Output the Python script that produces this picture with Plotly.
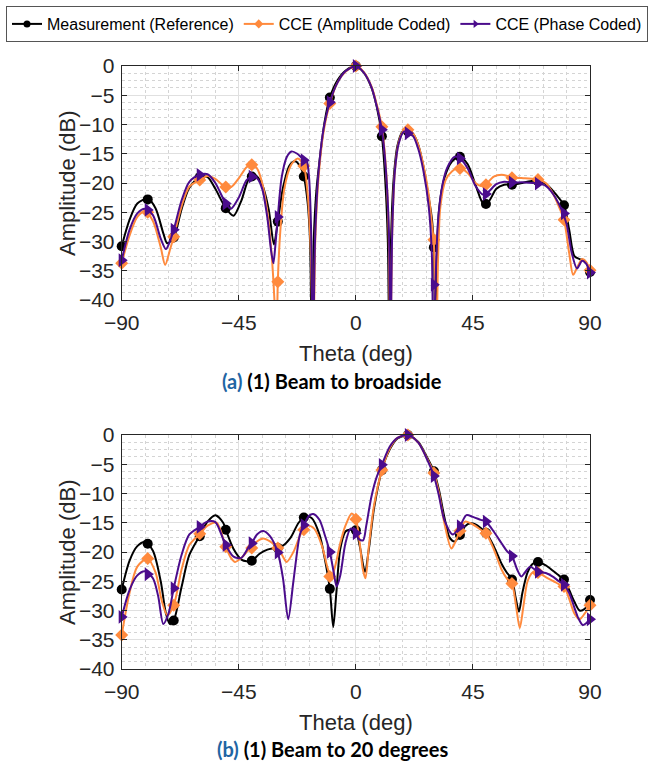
import plotly.graph_objects as go

# ---------------- data ----------------
theta_mk = [-90, -80, -70, -60, -50, -40, -30, -20, -10, 0, 10, 20, 30, 40, 50, 60, 70, 80, 90]

# (a) beam to broadside - sample points (markers)
a_meas_mk = [-30.8, -22.8, -29.3, -19.0, -24.3, -18.9, -26.6, -18.9, -5.4, 0.0, -12.0, -11.2, -31.0, -15.5, -23.6, -20.3, -19.7, -23.8, -35.2]
a_amp_mk = [-33.7, -25.0, -29.2, -19.5, -20.7, -16.9, -36.9, -17.1, -6.4, 0.0, -10.4, -10.9, -29.7, -17.5, -20.3, -19.1, -19.4, -26.3, -34.9]
a_ph_mk = [-33.2, -24.6, -28.0, -18.6, -23.5, -18.9, -25.8, -16.1, -6.2, 0.0, -10.9, -11.5, -37.4, -15.8, -21.9, -19.9, -20.1, -25.2, -35.3]

# (a) fine traces
a_meas_th = [-90, -87, -84, -80, -77, -74, -72.5, -70, -67, -64, -60, -57, -54, -50, -47, -44, -41, -38.5, -36, -33.5,
             -31.5, -30, -28, -25.5, -23.4, -21.5, -20, -18.5, -17.6, -16.9, -16.2, -15.2, -13.5, -12, -10, -7, -4, 0, 3, 6,
             8, 10, 11.3, 12.3, 12.9, 13.5, 14.5, 16, 18, 20, 22, 24, 26, 28, 29.2, 30, 30.5, 31.2, 32, 34,
             37, 40, 43, 46, 49, 51, 54, 57, 60, 64, 68, 71, 74, 77, 80, 82, 84, 86, 88, 90]
a_meas_db = [-30.8, -26.3, -23.5, -22.7, -24.3, -28.6, -30.3, -29.3, -24.5, -20.8, -19.0, -19.0, -21.0, -24.3, -25.6, -23.0, -19.2, -18.7, -20.3, -24.5,
             -30.5, -26.6, -20.8, -17.0, -16.3, -17.1, -18.9, -23.5, -30.0, -50.0, -30.0, -21.5, -14.5, -9.5, -5.4, -2.4, -0.8, 0.0, -1.1, -3.7,
             -6.9, -12.0, -19.5, -30.0, -50.0, -30.0, -19.5, -13.6, -11.2, -10.9, -11.6, -13.5, -17.2, -22.5, -26.0, -31.0, -50.0, -32.0, -24.5, -19.2,
             -16.3, -15.5, -16.8, -20.3, -23.5, -23.2, -21.0, -20.3, -20.3, -20.0, -19.6, -19.7, -20.5, -22.0, -23.8, -28.0, -32.5, -33.0, -33.3, -35.2]

a_amp_th = [-90, -87, -84, -81, -78, -75, -73.3, -71.5, -70, -67, -64, -60, -57, -54, -51, -48, -45, -42, -40, -38,
            -36, -34, -32.5, -31.3, -30.5, -30, -29, -27.5, -25, -22.3, -20, -18.5, -17.3, -16.4, -15.6, -14.5, -12.5, -10, -7, -4,
            0, 3, 6, 8, 10, 11.5, 12.6, 13.2, 14, 15, 16.5, 18.5, 20, 22, 24, 26, 28, 29, 30, 30.9,
            31.6, 32.5, 34.5, 37, 40, 43, 46, 48, 50, 53, 56, 60, 65, 70, 73, 76, 78, 80, 82, 83.5,
            85, 87, 88.5, 90]
a_amp_db = [-33.7, -29.0, -25.8, -24.8, -26.5, -31.0, -34.0, -31.5, -29.2, -24.0, -20.6, -19.5, -18.8, -19.3, -20.4, -20.7, -19.2, -17.3, -16.9, -17.5,
            -20.0, -25.0, -31.5, -40.0, -50.0, -36.9, -28.0, -21.0, -17.0, -15.8, -17.1, -22.0, -32.0, -50.0, -30.0, -20.0, -11.5, -6.4, -2.8, -1.0,
            0.0, -1.0, -3.5, -6.5, -10.4, -17.0, -28.0, -50.0, -28.0, -18.0, -13.0, -11.0, -10.9, -11.5, -13.5, -17.0, -22.0, -26.0, -30.5, -50.0,
            -33.0, -24.0, -19.5, -18.0, -17.4, -18.3, -20.0, -20.5, -20.2, -18.9, -18.6, -19.0, -19.2, -19.4, -20.0, -22.0, -24.0, -26.3, -32.0, -35.7,
            -34.5, -33.0, -33.5, -34.9]

a_ph_th = [-90, -87, -84, -81, -78, -75, -73, -71.5, -70, -67, -64, -60, -57, -54, -50, -48, -45, -42, -40, -38,
           -36, -34, -32.6, -31.7, -31, -30, -28.5, -26.5, -24.7, -22.5, -20.5, -19, -18, -17.2, -16.5, -15.7, -14.5, -12.5, -10, -7,
           -4, 0, 3, 6, 8, 10, 11.5, 12.7, 13.3, 14, 15, 16.5, 18.5, 20, 22, 24, 26, 28, 29.2, 29.8,
           30.6, 31.5, 33, 35, 38, 40, 43, 46, 49, 51, 54, 57, 60, 65, 70, 73, 76, 79, 81, 83,
           85, 87, 88.5, 90]
a_ph_db = [-33.2, -28.0, -25.2, -24.4, -25.5, -29.5, -31.3, -30.0, -28.0, -23.0, -19.8, -18.6, -18.5, -20.0, -23.5, -24.4, -22.5, -19.5, -18.9, -19.2,
           -21.0, -26.0, -31.5, -33.7, -31.0, -25.8, -19.0, -15.5, -14.6, -15.0, -15.8, -16.1, -19.0, -28.0, -50.0, -30.0, -19.0, -11.0, -6.2, -2.8,
           -0.9, 0.0, -1.1, -3.6, -6.8, -10.9, -17.5, -28.0, -50.0, -28.0, -18.0, -13.2, -11.2, -11.5, -12.0, -14.2, -18.0, -24.0, -32.0, -50.0,
           -37.4, -27.0, -21.0, -17.5, -15.5, -15.8, -17.5, -20.5, -22.0, -21.5, -20.2, -19.8, -19.9, -19.9, -20.1, -20.5, -22.0, -24.5, -27.0, -32.0,
           -34.6, -33.3, -33.8, -35.3]

# (b) beam to 20 degrees - sample points (markers)
b_meas_mk = [-26.4, -18.6, -31.7, -17.3, -16.2, -21.5, -19.3, -14.1, -26.3, -16.3, -6.0, 0.0, -6.2, -17.1, -16.7, -24.7, -21.7, -24.7, -28.2]
b_amp_mk = [-34.2, -21.1, -29.1, -16.9, -19.1, -19.3, -19.3, -16.2, -24.2, -14.4, -6.0, 0.0, -6.5, -16.4, -16.8, -25.4, -23.5, -25.9, -29.1]
b_ph_mk = [-31.1, -23.8, -26.2, -15.7, -18.8, -18.5, -20.1, -15.4, -20.0, -16.8, -5.1, 0.0, -7.0, -15.6, -14.8, -20.7, -23.4, -25.6, -31.5]

# (b) fine traces
b_meas_th = [-90, -87, -84, -81, -78, -75, -73, -71.5, -70, -67, -64, -60, -57, -54, -51, -50, -47, -44, -42, -40,
             -37, -34, -31, -28, -25, -22, -19.5, -17, -14, -12, -10, -8.7, -7.5, -6, -4, -2.5, -1, 0, 1.5, 3.5,
             5, 7, 10, 13, 16, 20, 24, 27, 30, 32, 34, 36, 38, 40, 42, 44, 46, 48, 50, 53,
             56, 58, 60, 61.5, 62.7, 64, 66, 68, 70, 73, 76, 78, 80, 82, 84, 86, 88, 90]
b_meas_db = [-26.4, -21.5, -19.0, -18.3, -19.8, -25.0, -30.5, -32.3, -31.7, -26.0, -20.5, -17.2, -14.8, -13.7, -15.0, -16.2, -19.5, -21.3, -21.6, -21.5,
             -20.3, -19.6, -19.3, -18.9, -17.5, -15.0, -14.0, -14.2, -17.0, -21.0, -26.3, -32.8, -27.0, -19.5, -16.5, -16.2, -16.2, -16.3, -19.0, -23.4,
             -19.5, -12.5, -6.0, -2.5, -0.6, 0.0, -1.2, -3.5, -6.2, -9.5, -14.0, -17.5, -18.2, -17.1, -15.6, -15.1, -15.3, -15.9, -16.7, -19.0,
             -22.0, -23.5, -24.7, -28.0, -30.2, -27.0, -23.5, -22.0, -21.7, -22.3, -23.3, -24.0, -24.7, -26.5, -28.5, -30.0, -29.7, -28.2]

b_amp_th = [-90, -87, -84, -80, -77, -74.5, -72.5, -70, -67, -64, -60, -57, -53.5, -50, -48, -46.4, -44, -41, -38, -35.6,
            -33, -30, -28, -26.6, -24, -21, -18.5, -16, -13, -11, -9.5, -8, -6, -4, -1.6, 0, 1.5, 2.7, 3.7, 5,
            7, 10, 13, 16, 20, 24, 27, 30, 32, 34, 36.7, 38, 40, 42, 45, 48, 50, 53, 56, 58,
            60, 61.5, 63, 64.5, 66, 68, 70, 73, 76, 78, 80, 82, 84, 86, 88, 90]
b_amp_db = [-34.2, -27.0, -22.5, -21.1, -23.5, -28.5, -30.8, -29.1, -23.0, -18.8, -16.9, -15.5, -15.0, -19.1, -21.0, -21.7, -21.0, -19.5, -18.2, -17.7,
            -18.2, -19.3, -20.8, -21.7, -20.0, -16.8, -15.5, -16.0, -19.0, -22.5, -24.5, -22.5, -18.5, -15.5, -13.4, -14.4, -18.5, -23.0, -24.5, -19.0,
            -12.0, -6.0, -2.3, -0.5, 0.0, -1.3, -3.7, -6.5, -10.0, -15.0, -19.4, -18.5, -16.4, -14.8, -15.3, -16.2, -16.8, -19.5, -23.0, -24.5,
            -25.4, -29.0, -33.0, -29.0, -25.0, -23.5, -23.5, -24.3, -25.0, -25.5, -25.9, -28.0, -30.5, -31.5, -30.5, -29.1]

b_ph_th = [-90, -87, -84, -81, -78, -76, -74, -72, -70, -67, -64, -60, -57, -54, -51, -50, -47, -44, -41, -40,
           -38, -35.6, -33, -30, -28, -26, -24, -21.5, -20, -18, -16.4, -14, -12, -10, -8.5, -7.4, -6, -4, -2, 0,
           1.2, 2.8, 4, 6, 8, 10, 13, 16, 20, 24, 27, 30, 32, 34, 37.3, 40, 42.5, 45, 48, 50,
           53, 56, 58, 60, 62, 63.6, 65, 67, 70, 73, 76, 78, 80, 82, 84, 85.5, 87.2, 88.5, 90]
b_ph_db = [-31.1, -26.5, -24.0, -23.3, -24.5, -27.5, -32.3, -30.5, -26.2, -20.5, -17.0, -15.7, -14.8, -14.9, -17.8, -18.8, -20.8, -21.0, -19.0, -18.5,
           -17.0, -16.4, -17.3, -20.1, -24.5, -31.5, -25.0, -17.0, -15.4, -13.8, -13.5, -14.5, -17.0, -20.0, -23.5, -25.9, -24.0, -18.5, -16.0, -16.8,
           -17.8, -18.0, -15.5, -10.5, -7.2, -5.1, -2.0, -0.5, 0.0, -1.3, -3.8, -7.0, -10.5, -14.5, -17.0, -15.6, -13.7, -14.0, -14.5, -14.8,
           -16.5, -18.5, -19.8, -20.7, -23.0, -24.2, -23.5, -22.5, -23.4, -23.6, -24.3, -25.0, -25.6, -27.0, -29.5, -31.3, -32.5, -32.2, -31.5]

names = ["Measurement (Reference)", "CCE (Amplitude Coded)", "CCE (Phase Coded)"]
x_ticks = [-90, -45, 0, 45, 90]
y_ticks = [0, -5, -10, -15, -20, -25, -30, -35, -40]
captions = ["(a)", "(b)"]
caption_texts = ["(1) Beam to broadside", "(1) Beam to 20 degrees"]

# ---------------- style ----------------
colors = ["#000000", "#FF8A3D", "#4B0C8C"]
symbols = ["circle", "diamond", "triangle-right"]
msizes = [10, 10, 12]
AX = "#262626"
W, H = 654, 767
xdom = [121.7 / W, 590 / W]
ydom_top = [(H - 300) / H, (H - 66) / H]
ydom_bot = [(H - 669) / H, (H - 435) / H]

fig = go.Figure()

panels = [
    ("x", "y", [(a_meas_th, a_meas_db, a_meas_mk), (a_amp_th, a_amp_db, a_amp_mk), (a_ph_th, a_ph_db, a_ph_mk)]),
    ("x2", "y2", [(b_meas_th, b_meas_db, b_meas_mk), (b_amp_th, b_amp_db, b_amp_mk), (b_ph_th, b_ph_db, b_ph_mk)]),
]
for xa, ya, series in panels:
    for i, (th, db, mk) in enumerate(series):
        fig.add_trace(go.Scatter(x=th, y=db, xaxis=xa, yaxis=ya, mode="lines",
                                 line=dict(color=colors[i], width=2, shape="spline", smoothing=0.8),
                                 showlegend=False, hoverinfo="skip"))
        fig.add_trace(go.Scatter(x=theta_mk, y=mk, xaxis=xa, yaxis=ya, mode="markers",
                                 marker=dict(color=colors[i], symbol=symbols[i], size=msizes[i]),
                                 cliponaxis=False, showlegend=False))

for i in range(3):
    fig.add_trace(go.Scatter(x=[None], y=[None], mode="lines+markers", name=names[i],
                             line=dict(color=colors[i], width=2),
                             marker=dict(color=colors[i], symbol=symbols[i], size=7)))

tickfont = dict(family="Liberation Sans, Arial, sans-serif", size=21, color=AX)

def xaxis(anchor):
    return dict(domain=xdom, anchor=anchor, range=[-90, 90], tickvals=x_ticks,
                ticks="inside", ticklen=5, tickcolor=AX, showline=True, linecolor=AX, linewidth=1,
                mirror="ticks", showgrid=True, gridcolor="#e0e0e0", gridwidth=1, zeroline=False,
                tickfont=tickfont, ticklabelstandoff=4,
                minor=dict(dtick=9, showgrid=True, griddash="dot", gridcolor="#d4d4d4", gridwidth=1))

def yaxis(anchor, dom):
    return dict(domain=dom, anchor=anchor, range=[-40, 0], tickvals=y_ticks,
                ticks="inside", ticklen=5, tickcolor=AX, showline=True, linecolor=AX, linewidth=1,
                mirror="ticks", showgrid=True, gridcolor="#e0e0e0", gridwidth=1, zeroline=False,
                tickfont=tickfont, ticklabelstandoff=2,
                minor=dict(dtick=1.25, showgrid=True, griddash="dot", gridcolor="#d4d4d4", gridwidth=1))

fig.update_layout(
    width=W, height=H, margin=dict(l=0, r=0, t=0, b=0, autoexpand=False),
    paper_bgcolor="white", plot_bgcolor="white",
    xaxis=xaxis("y"), yaxis=yaxis("x", ydom_top),
    xaxis2=xaxis("y2"), yaxis2=yaxis("x2", ydom_bot),
    legend=dict(orientation="h", x=0.5, xanchor="center", y=1 - 6 / H, yanchor="top",
                bordercolor="#555555", borderwidth=1, bgcolor="white",
                font=dict(family="Liberation Sans, Arial, sans-serif", size=16, color="#000000"),
                itemwidth=30, tracegroupgap=0),
)

titlefont = dict(family="Liberation Sans, Arial, sans-serif", size=22, color=AX)
for (ytop, ybot) in [(66, 300), (435, 669)]:
    fig.add_annotation(text="Amplitude (dB)", xref="paper", yref="paper", x=67 / W, y=1 - (ytop + ybot) / 2 / H,
                       textangle=-90, showarrow=False, font=titlefont, xanchor="center", yanchor="middle")
    fig.add_annotation(text="Theta (deg)", xref="paper", yref="paper", x=356 / W, y=1 - (ybot + 53) / H,
                       showarrow=False, font=titlefont, xanchor="center", yanchor="middle")

capfont = dict(family="Lato, Open Sans, sans-serif", size=20, color="#000000")
for cap, txt, yc in zip(captions, caption_texts, [381, 749]):
    fig.add_annotation(text="<b><span style='color:#1f65a3'>" + cap + "</span> " + txt + "</b>",
                       xref="paper", yref="paper", x=332 / W, y=1 - yc / H,
                       showarrow=False, font=capfont, xanchor="center", yanchor="middle")

fig.write_html("out.html")
